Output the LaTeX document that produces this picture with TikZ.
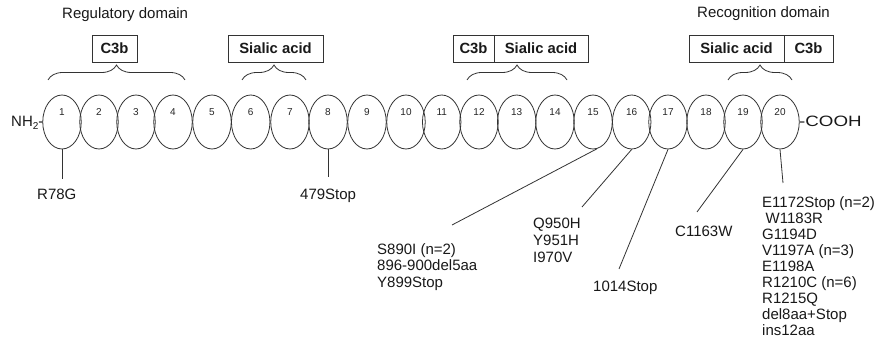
\documentclass[tikz,border=0pt]{standalone}
\usepackage{fontspec}
\setmainfont{Liberation Sans}
\usetikzlibrary{decorations.pathreplacing,shapes.geometric}
\begin{document}
\begin{tikzpicture}[x=1pt,y=-1pt,
  dom/.style={draw=black!80, line width=0.8pt, ellipse, minimum width=38.5pt, minimum height=54pt, inner sep=0pt},
  num/.style={font=\fontsize{10}{10}\selectfont, inner sep=0pt, text=black!85},
  lbl/.style={font=\fontsize{15}{16.4}\selectfont, inner sep=0pt, text=black!90},
  mlbl/.style={lbl, align=left, anchor=north west},
  box/.style={draw=black!80, line width=0.8pt, font=\bfseries\fontsize{14.8}{16}\selectfont, minimum height=27pt, inner sep=0pt, text=black!90},
  brc/.style={decorate, decoration={brace, amplitude=15pt}, draw=black!80, line width=0.8pt},
  conn/.style={draw=black!80, line width=0.8pt}]
\fill[white] (0,0) rectangle (878,347);
\useasboundingbox (0,0) rectangle (878,347);

% domain labels
\node[lbl, anchor=base west] (reg) at (62,18.5) {Regulatory domain};
\node[lbl, anchor=base west] (rec) at (697,18) {Recognition domain};

% binding boxes
\node[box, minimum width=45pt] (c3a) at (114.5,48.5) {C3b};
\node[box, minimum width=95pt] (sa1) at (275.5,48.5) {Sialic acid};
\node[box, minimum width=41pt] (c3b) at (473.5,48.5) {C3b};
\node[box, minimum width=94pt] (sa2) at (541,48.5) {Sialic acid};
\node[box, minimum width=95pt] (sa3) at (736.5,48.5) {Sialic acid};
\node[box, minimum width=49pt] (c3c) at (808.5,48.5) {C3b};

% braces
\coordinate (b1l) at (48,80);  \coordinate (b1r) at (185,80);
\coordinate (b2l) at (242,80); \coordinate (b2r) at (306,80);
\coordinate (b3l) at (467,80); \coordinate (b3r) at (567,80);
\coordinate (b4l) at (728,80); \coordinate (b4r) at (792,80);
\draw[brc] (b1l) -- (b1r);
\draw[brc] (b2l) -- (b2r);
\draw[brc] (b3l) -- (b3r);
\draw[brc] (b4l) -- (b4r);

% SCR domains
\foreach \x [count=\i] in {62,99,136,173,212,250.7,290,328,367,406,441.7,479,516.7,555,593,631.7,668,706,743,780} {
  \node[dom] (e\i) at (\x,122) {};
  \node[num] (n\i) at (\x,112) {\i};
}

% termini
\node[lbl, anchor=base west] (nh) at (11,127) {NH\raisebox{-3pt}{\fontsize{10}{10}\selectfont 2}-};
\node[lbl, anchor=base west] (cooh) at (799,127) {\scalebox{1.25}[1]{-COOH}};

% mutation labels
\node[lbl, anchor=base west] (m1) at (37,200) {R78G};
\node[lbl, anchor=base west] (m8) at (300,200) {479Stop};
\node[mlbl, font=\fontsize{15}{16.5}\selectfont] (m15) at (377,243.1) {S890I (n=2)\\896-900del5aa\\Y899Stop};
\node[mlbl, font=\fontsize{15}{16.7}\selectfont] (m16) at (533,218.1) {Q950H\\Y951H\\I970V};
\node[lbl, anchor=base west] (m17) at (593,292) {1014Stop};
\node[lbl, anchor=base west] (m19) at (675,237) {C1163W};
\node[mlbl, font=\fontsize{15}{16.1}\selectfont] (m20) at (762,196.1) {E1172Stop (n=2)\\\hspace{3.5pt}W1183R\\G1194D\\V1197A (n=3)\\E1198A\\R1210C (n=6)\\R1215Q\\del8aa+Stop\\ins12aa};

% connector ends
\coordinate (t1) at (62,179);
\coordinate (t8) at (328,177);
\coordinate (t15) at (452,225);
\coordinate (t16) at (582,207);
\coordinate (t17) at (619,269);
\coordinate (t19) at (697,212);
\coordinate (t20) at (783,183);

\draw[conn] (e1.south) -- (t1);
\draw[conn] (e8.south) -- (t8);
\draw[conn] (e15.-82) -- (t15);
\draw[conn] (e16.south) -- (t16);
\draw[conn] (e17.south) -- (t17);
\draw[conn] (e19.south) -- (t19);
\draw[conn] (e20.south) -- (t20);
\end{tikzpicture}
\end{document}
